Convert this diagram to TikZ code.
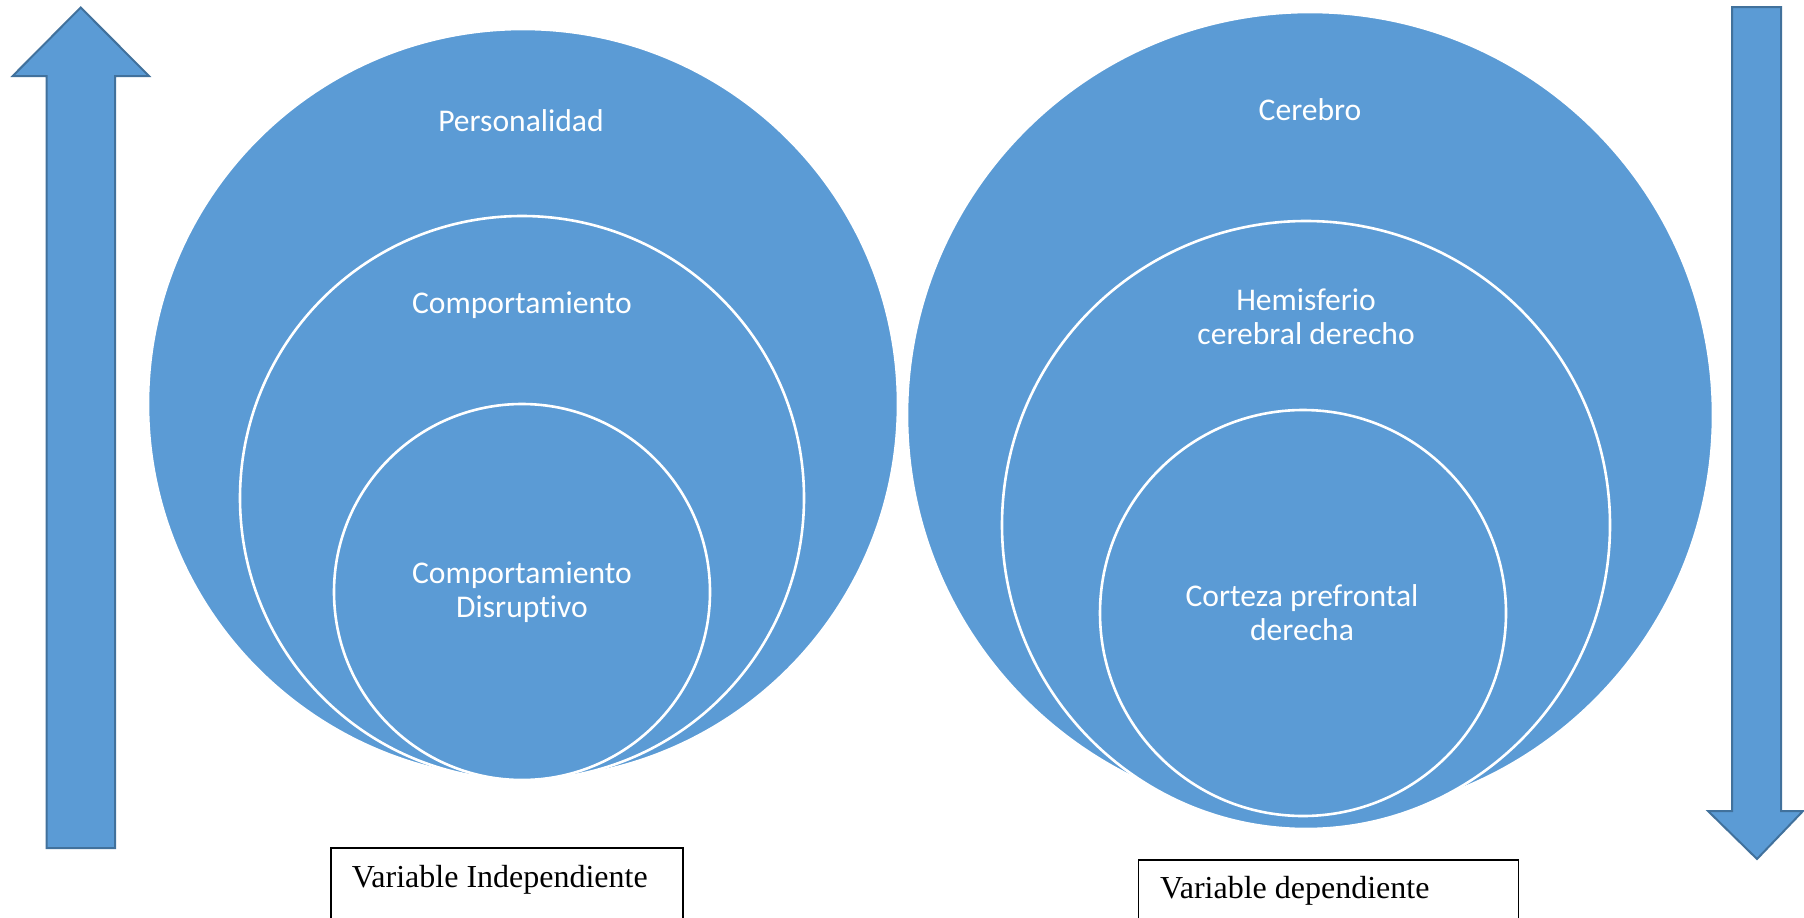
\documentclass[tikz,border=0pt]{standalone}
\usepackage{fontspec}
\setmainfont{Liberation Serif}
\newfontfamily\calfont[Ligatures=NoCommon]{Carlito}
\definecolor{ofblue}{HTML}{5B9BD5}
\definecolor{ofedge}{HTML}{41719C}
\begin{document}
\begin{tikzpicture}[x=1pt,y=-1pt,
  disc/.style={fill=ofblue,draw=white,line width=2.6pt},
  arrowshape/.style={fill=ofblue,draw=ofedge,line width=2pt,line join=miter},
  lbl/.style={text=white,font=\calfont\fontsize{31.6}{34}\selectfont,align=center,inner sep=0pt},
  varbox/.style={draw=black,line width=1.6pt},
  vartext/.style={font=\fontsize{32}{36}\selectfont,anchor=base west,inner sep=0pt}]
\useasboundingbox (0,0) rectangle (1804,918);
\fill[white] (0,0) rectangle (1804,918);
% left nested circles
\path[disc] (523,404) circle[radius=375pt];
\path[disc] (522,498) circle[radius=282pt];
\path[disc] (522,592) circle[radius=188pt];
% right nested circles
\path[disc] (1310,415) circle[radius=403pt];
\path[disc] (1306,525) circle[radius=304pt];
\path[disc] (1303,613) circle[radius=203pt];
% labels
\node[lbl] (pers) at (521,121) {Personalidad};
\node[lbl] (comp) at (522,305) {Comportamiento};
\node[lbl] (disr) at (522,592) {Comportamiento\\Disruptivo};
\node[lbl] (cere) at (1310,110) {Cerebro};
\node[lbl] (hemi) at (1306,317) {Hemisferio\\cerebral derecho};
\node[lbl] (cort) at (1302,613) {Corteza prefrontal\\derecha};
% arrows
\path[arrowshape] (80.7,7.5) -- (149,76) -- (115,76) -- (115,848) -- (46.7,848) -- (46.7,76) -- (12.7,76) -- cycle;
\path[arrowshape] (1732,7) -- (1781,7) -- (1781,811) -- (1803,811) -- (1757,859) -- (1708,811) -- (1732,811) -- cycle;
% variable boxes
\draw[varbox] (330.7,920) -- (330.7,847.7) -- (683,847.7) -- (683,920);
\node[vartext] (vi) at (351.7,887.7) {Variable Independiente};
\draw[varbox] (1138.3,920) -- (1138.3,860) -- (1518.3,860) -- (1518.3,920);
\node[vartext] (vd) at (1160,898) {Variable dependiente};
\end{tikzpicture}
\end{document}
